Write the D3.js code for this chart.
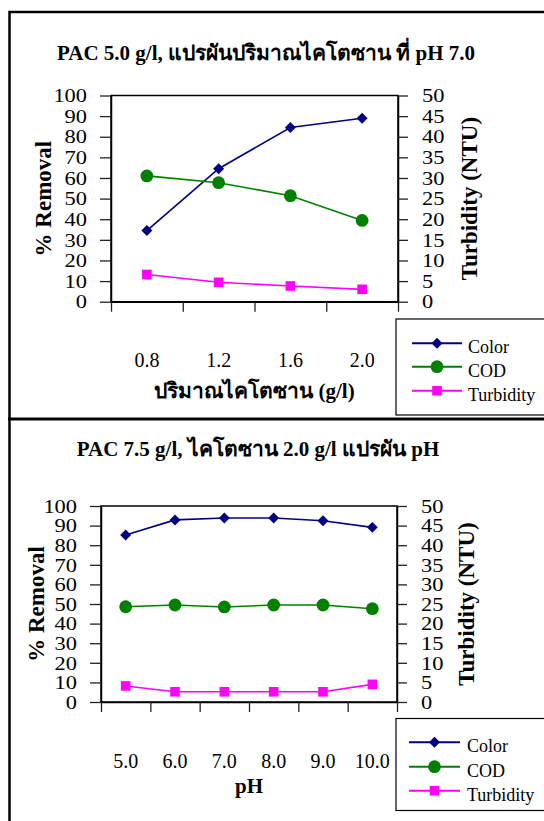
<!DOCTYPE html>
<html>
<head>
<meta charset="utf-8">
<script src="https://cdn.jsdelivr.net/npm/d3@7"></script>
<style>
  html, body { margin: 0; padding: 0; background: #fff; }
  svg { display: block; }
  text { font-family: "Liberation Serif", "Times New Roman", serif; fill: #000; }
</style>
</head>
<body>
<svg id="chart" width="544" height="821"></svg>
<script>
// ---- data: chitosan dose series (PAC 5.0 g/l, pH 7.0) ----
const doseCategories = ["0.8", "1.2", "1.6", "2.0"];
const doseColor = [34.5, 64.5, 84.5, 89.0];       // % removal
const doseCOD = [61.0, 57.7, 51.4, 39.4];         // % removal
const doseTurbidity = [6.6, 4.7, 3.8, 3.0];       // NTU (right axis)

// ---- data: pH series (PAC 7.5 g/l, chitosan 2.0 g/l) ----
const phCategories = ["5.0", "6.0", "7.0", "8.0", "9.0", "10.0"];
const phColor = [85.2, 92.9, 93.9, 93.9, 92.5, 89.1];
const phCOD = [48.6, 49.5, 48.5, 49.5, 49.5, 47.6];
const phTurbidity = [4.1, 2.6, 2.6, 2.6, 2.6, 4.5];

const removalTicks = d3.range(0, 101, 10);
const turbidityTicks = d3.range(0, 51, 5);
const seriesNames = ["Color", "COD", "Turbidity"];
const seriesColors = ["#000080", "#008000", "#FF00FF"];

const svg = d3.select("#chart");

// outer frame and divider between the two panels
svg.append("rect")
  .attr("x", 9.5).attr("y", 12).attr("width", 560).attr("height", 840)
  .attr("fill", "none").attr("stroke", "#000").attr("stroke-width", 2.5);
svg.append("line")
  .attr("x1", 8).attr("x2", 544).attr("y1", 419).attr("y2", 419)
  .attr("stroke", "#000").attr("stroke-width", 3.2);

function marker(g, kind, x, y, color) {
  if (kind === "Color") {
    g.append("path")
      .attr("d", d3.symbol(d3.symbolSquare, 60)())
      .attr("transform", `translate(${x},${y}) rotate(45)`)
      .attr("fill", color);
  } else if (kind === "COD") {
    g.append("circle").attr("cx", x).attr("cy", y).attr("r", 6.4).attr("fill", color);
  } else {
    g.append("rect").attr("x", x - 4.8).attr("y", y - 4.8)
      .attr("width", 9.6).attr("height", 9.6).attr("fill", color);
  }
}

// tick numerals are set slightly wide, as in the source typesetting
const TICK_STRETCH = 1.15;

function panel(cfg) {
  const g = svg.append("g");
  const { x0, x1, y0, y1, cats } = cfg;

  const band = d3.scaleBand().domain(cats).range([x0, x1]).padding(0);
  const edge = d3.scaleLinear().domain([0, cats.length]).range([x0, x1]);
  const yL = d3.scaleLinear().domain([0, 100]).range([y1, y0]);
  const yR = d3.scaleLinear().domain([0, 50]).range([y1, y0]);
  const cx = c => band(c) + band.bandwidth() / 2;

  // plot box
  g.append("rect").attr("x", x0).attr("y", y0).attr("width", x1 - x0).attr("height", y1 - y0)
    .attr("fill", "none").attr("stroke", "#000").attr("stroke-width", 1.5);

  // left axis
  const ax = g.append("g").attr("transform", `translate(${x0},0)`)
    .call(d3.axisLeft(yL).tickValues(removalTicks).tickSize(11).tickPadding(13).tickSizeOuter(0));
  // right axis
  const ar = g.append("g").attr("transform", `translate(${x1},0)`)
    .call(d3.axisRight(yR).tickValues(turbidityTicks).tickSize(10).tickPadding(14).tickSizeOuter(0));
  // bottom tick marks on category boundaries
  const ab = g.append("g").attr("transform", `translate(0,${y1})`)
    .call(d3.axisBottom(edge).tickValues(d3.range(cats.length + 1)).tickSize(10).tickFormat("").tickSizeOuter(0));
  [ax, ar, ab].forEach(a => {
    a.select(".domain").attr("stroke", "#000").attr("stroke-width", 1.5);
    a.selectAll(".tick line").attr("stroke", "#222").attr("stroke-width", 1.3);
  });
  [ax, ar].forEach(a => {
    a.selectAll(".tick text").each(function () {
      const t = d3.select(this);
      const x = +t.attr("x");
      t.attr("x", x / TICK_STRETCH)
        .attr("transform", `scale(${TICK_STRETCH},1)`)
        .attr("font-size", 19.5).attr("font-family", "Liberation Serif").attr("fill", "#000");
    });
  });

  // category labels
  g.selectAll(".cat").data(cats).join("text")
    .attr("x", c => cx(c)).attr("y", cfg.catY)
    .attr("text-anchor", "middle").attr("font-size", 20).text(c => c);

  // axis titles
  g.append("text").attr("transform", `translate(${cfg.leftTitleX},${(y0 + y1) / 2}) rotate(-90)`)
    .attr("text-anchor", "middle").attr("font-size", 23).attr("font-weight", "bold").text("% Removal");
  g.append("text").attr("transform", `translate(${cfg.rightTitleX},${(y0 + y1) / 2}) rotate(-90)`)
    .attr("text-anchor", "middle").attr("font-size", 23).attr("font-weight", "bold").text("Turbidity (NTU)");
  g.append("text").attr("x", (x0 + x1) / 2).attr("y", cfg.xTitleY)
    .attr("text-anchor", "middle").attr("font-size", 21).attr("font-weight", "bold").text(cfg.xTitle);

  // chart title
  g.append("text").attr("x", cfg.titleX).attr("y", cfg.titleY)
    .attr("text-anchor", "middle").attr("font-size", 21).attr("font-weight", "bold").text(cfg.title);

  // series
  const series = [
    { name: "Color", values: cfg.color, y: yL },
    { name: "COD", values: cfg.cod, y: yL },
    { name: "Turbidity", values: cfg.turb, y: yR }
  ];
  series.forEach((s, i) => {
    const line = d3.line().x((d, j) => cx(cats[j])).y(d => s.y(d));
    g.append("path").attr("d", line(s.values)).attr("fill", "none")
      .attr("stroke", seriesColors[i]).attr("stroke-width", 1.6);
    s.values.forEach((v, j) => marker(g, s.name, cx(cats[j]), s.y(v), seriesColors[i]));
  });

  // legend
  const L = cfg.legend;
  g.append("rect").attr("x", L.x).attr("y", L.y).attr("width", L.w).attr("height", L.h)
    .attr("fill", "#fff").attr("stroke", "#000").attr("stroke-width", 1.2);
  seriesNames.forEach((n, i) => {
    const ry = L.rows[i];
    g.append("line").attr("x1", L.lx0).attr("x2", L.lx1).attr("y1", ry).attr("y2", ry)
      .attr("stroke", seriesColors[i]).attr("stroke-width", 2);
    marker(g, n, (L.lx0 + L.lx1) / 2, ry, seriesColors[i]);
    g.append("text").attr("x", L.tx).attr("y", ry + 10).attr("font-size", 18).text(n);
  });
}

panel({
  x0: 111, x1: 398, y0: 95.5, y1: 301.7, cats: doseCategories,
  color: doseColor, cod: doseCOD, turb: doseTurbidity,
  catY: 367, xTitle: "ปริมาณไคโตซาน (g/l)", xTitleY: 398,
  leftTitleX: 50.5, rightTitleX: 476.5,
  title: "PAC 5.0 g/l, แปรผันปริมาณไคโตซาน ที่ pH 7.0", titleX: 266, titleY: 59.5,
  legend: { x: 396, y: 319, w: 160, h: 96, lx0: 412, lx1: 462, tx: 468, rows: [343.3, 366.7, 390.7] }
});

panel({
  x0: 101, x1: 397, y0: 506, y1: 702, cats: phCategories,
  color: phColor, cod: phCOD, turb: phTurbidity,
  catY: 768, xTitle: "pH", xTitleY: 793,
  leftTitleX: 43.5, rightTitleX: 474,
  title: "PAC 7.5 g/l, ไคโตซาน 2.0 g/l แปรผัน pH", titleX: 258, titleY: 456,
  legend: { x: 396, y: 718.5, w: 160, h: 92, lx0: 409, lx1: 460, tx: 467, rows: [742.3, 766.7, 790.7] }
});
</script>
</body>
</html>
